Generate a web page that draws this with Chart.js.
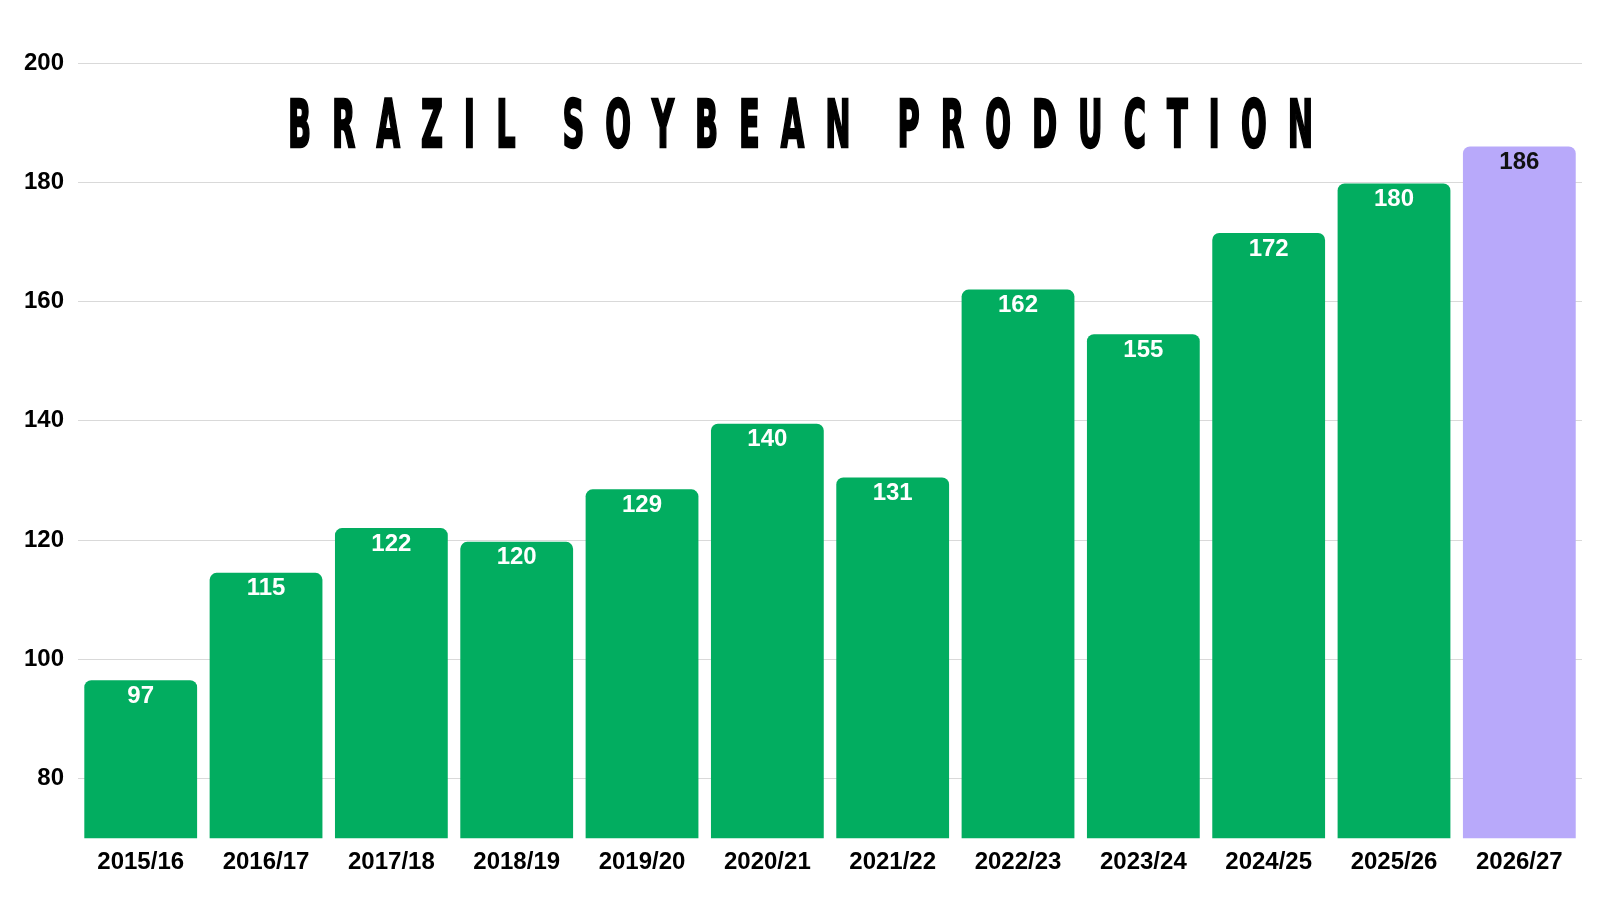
<!DOCTYPE html>
<html>
<head>
<meta charset="utf-8">
<title>Brazil Soybean Production</title>
<script src="https://cdn.jsdelivr.net/npm/chart.js@4"></script>
<style>
    html, body { margin: 0; padding: 0; background: #ffffff; }
    #chart { display: block; }
</style>
</head>
<body>
<canvas id="chart" width="1600" height="900"></canvas>
<script>
// Chart data
const seasons = ['2015/16', '2016/17', '2017/18', '2018/19', '2019/20', '2020/21',
                 '2021/22', '2022/23', '2023/24', '2024/25', '2025/26', '2026/27'];
const production = [96.5, 114.5, 122, 119.7, 128.5, 139.5, 130.5, 162, 154.5, 171.5, 179.8, 186];
const yTicks = [80, 100, 120, 140, 160, 180, 200];
const titleText = 'BRAZIL SOYBEAN PRODUCTION';

const green = '#02ad60';
const purple = '#b8a9fa';
const labelFont = '"Liberation Sans", Arial, sans-serif';

// Wide-spaced condensed title drawn letter by letter
const spacedTitle = {
    id: 'spacedTitle',
    afterDraw(chart) {
        const ctx = chart.ctx;
        const left = 288, right = 1313, baseline = 147;
        const gap = 21, wordGap = 47;
        ctx.save();
        ctx.font = 'bold 66px "DejaVu Sans Condensed", "DejaVu Sans", sans-serif';
        ctx.fillStyle = '#000';
        ctx.strokeStyle = '#000';
        ctx.lineJoin = 'miter';
        ctx.textBaseline = 'alphabetic';
        const words = titleText.split(' ');
        let natural = 0, gaps = 0;
        words.forEach((w, wi) => {
            for (const ch of w) natural += ctx.measureText(ch).width;
            gaps += (w.length - 1) * gap + (wi > 0 ? wordGap : 0);
        });
        const sx = (right - left - gaps) / natural;
        let x = left;
        words.forEach((w, wi) => {
            if (wi > 0) x += wordGap;
            [...w].forEach((ch, ci) => {
                const cw = ctx.measureText(ch).width;
                ctx.save();
                ctx.translate(x, baseline);
                ctx.scale(sx, 1);
                ctx.lineWidth = 1.2 / sx;
                ctx.fillText(ch, 0, 0);
                ctx.strokeText(ch, 0, 0);
                ctx.restore();
                x += cw * sx + (ci < w.length - 1 ? gap : 0);
            });
        });
        ctx.restore();
    }
};

// Value labels inside the top of each bar
const barLabels = {
    id: 'barLabels',
    afterDatasetsDraw(chart) {
        const ctx = chart.ctx;
        const meta = chart.getDatasetMeta(0);
        ctx.save();
        ctx.font = 'bold 24px ' + labelFont;
        ctx.textAlign = 'center';
        ctx.textBaseline = 'middle';
        meta.data.forEach((bar, i) => {
            ctx.fillStyle = i === production.length - 1 ? '#111111' : '#ffffff';
            ctx.fillText(Math.round(production[i]), bar.x, bar.y + 16);
        });
        ctx.restore();
    }
};

new Chart(document.getElementById('chart'), {
    type: 'bar',
    data: {
        labels: seasons,
        datasets: [{
            data: production,
            backgroundColor: production.map((v, i) => i === production.length - 1 ? purple : green),
            borderRadius: { topLeft: 7, topRight: 7, bottomLeft: 0, bottomRight: 0 },
            borderSkipped: 'bottom',
            barPercentage: 0.9,
            categoryPercentage: 1
        }]
    },
    options: {
        responsive: false,
        animation: false,
        layout: { padding: { top: 63, right: 18, bottom: 13, left: 10 } },
        plugins: {
            legend: { display: false },
            tooltip: { enabled: false }
        },
        scales: {
            y: {
                min: 70,
                max: 200,
                afterBuildTicks: axis => { axis.ticks = yTicks.map(v => ({ value: v })); },
                border: { display: false },
                grid: { color: '#d9d9d9', lineWidth: 1, drawTicks: false },
                ticks: {
                    color: '#000',
                    padding: 14,
                    font: { family: labelFont, size: 24, weight: 'bold' }
                }
            },
            x: {
                border: { display: false },
                grid: { display: false, drawTicks: false },
                ticks: {
                    color: '#000',
                    padding: 10,
                    font: { family: labelFont, size: 24, weight: 'bold' }
                }
            }
        }
    },
    plugins: [barLabels, spacedTitle]
});
</script>
</body>
</html>
